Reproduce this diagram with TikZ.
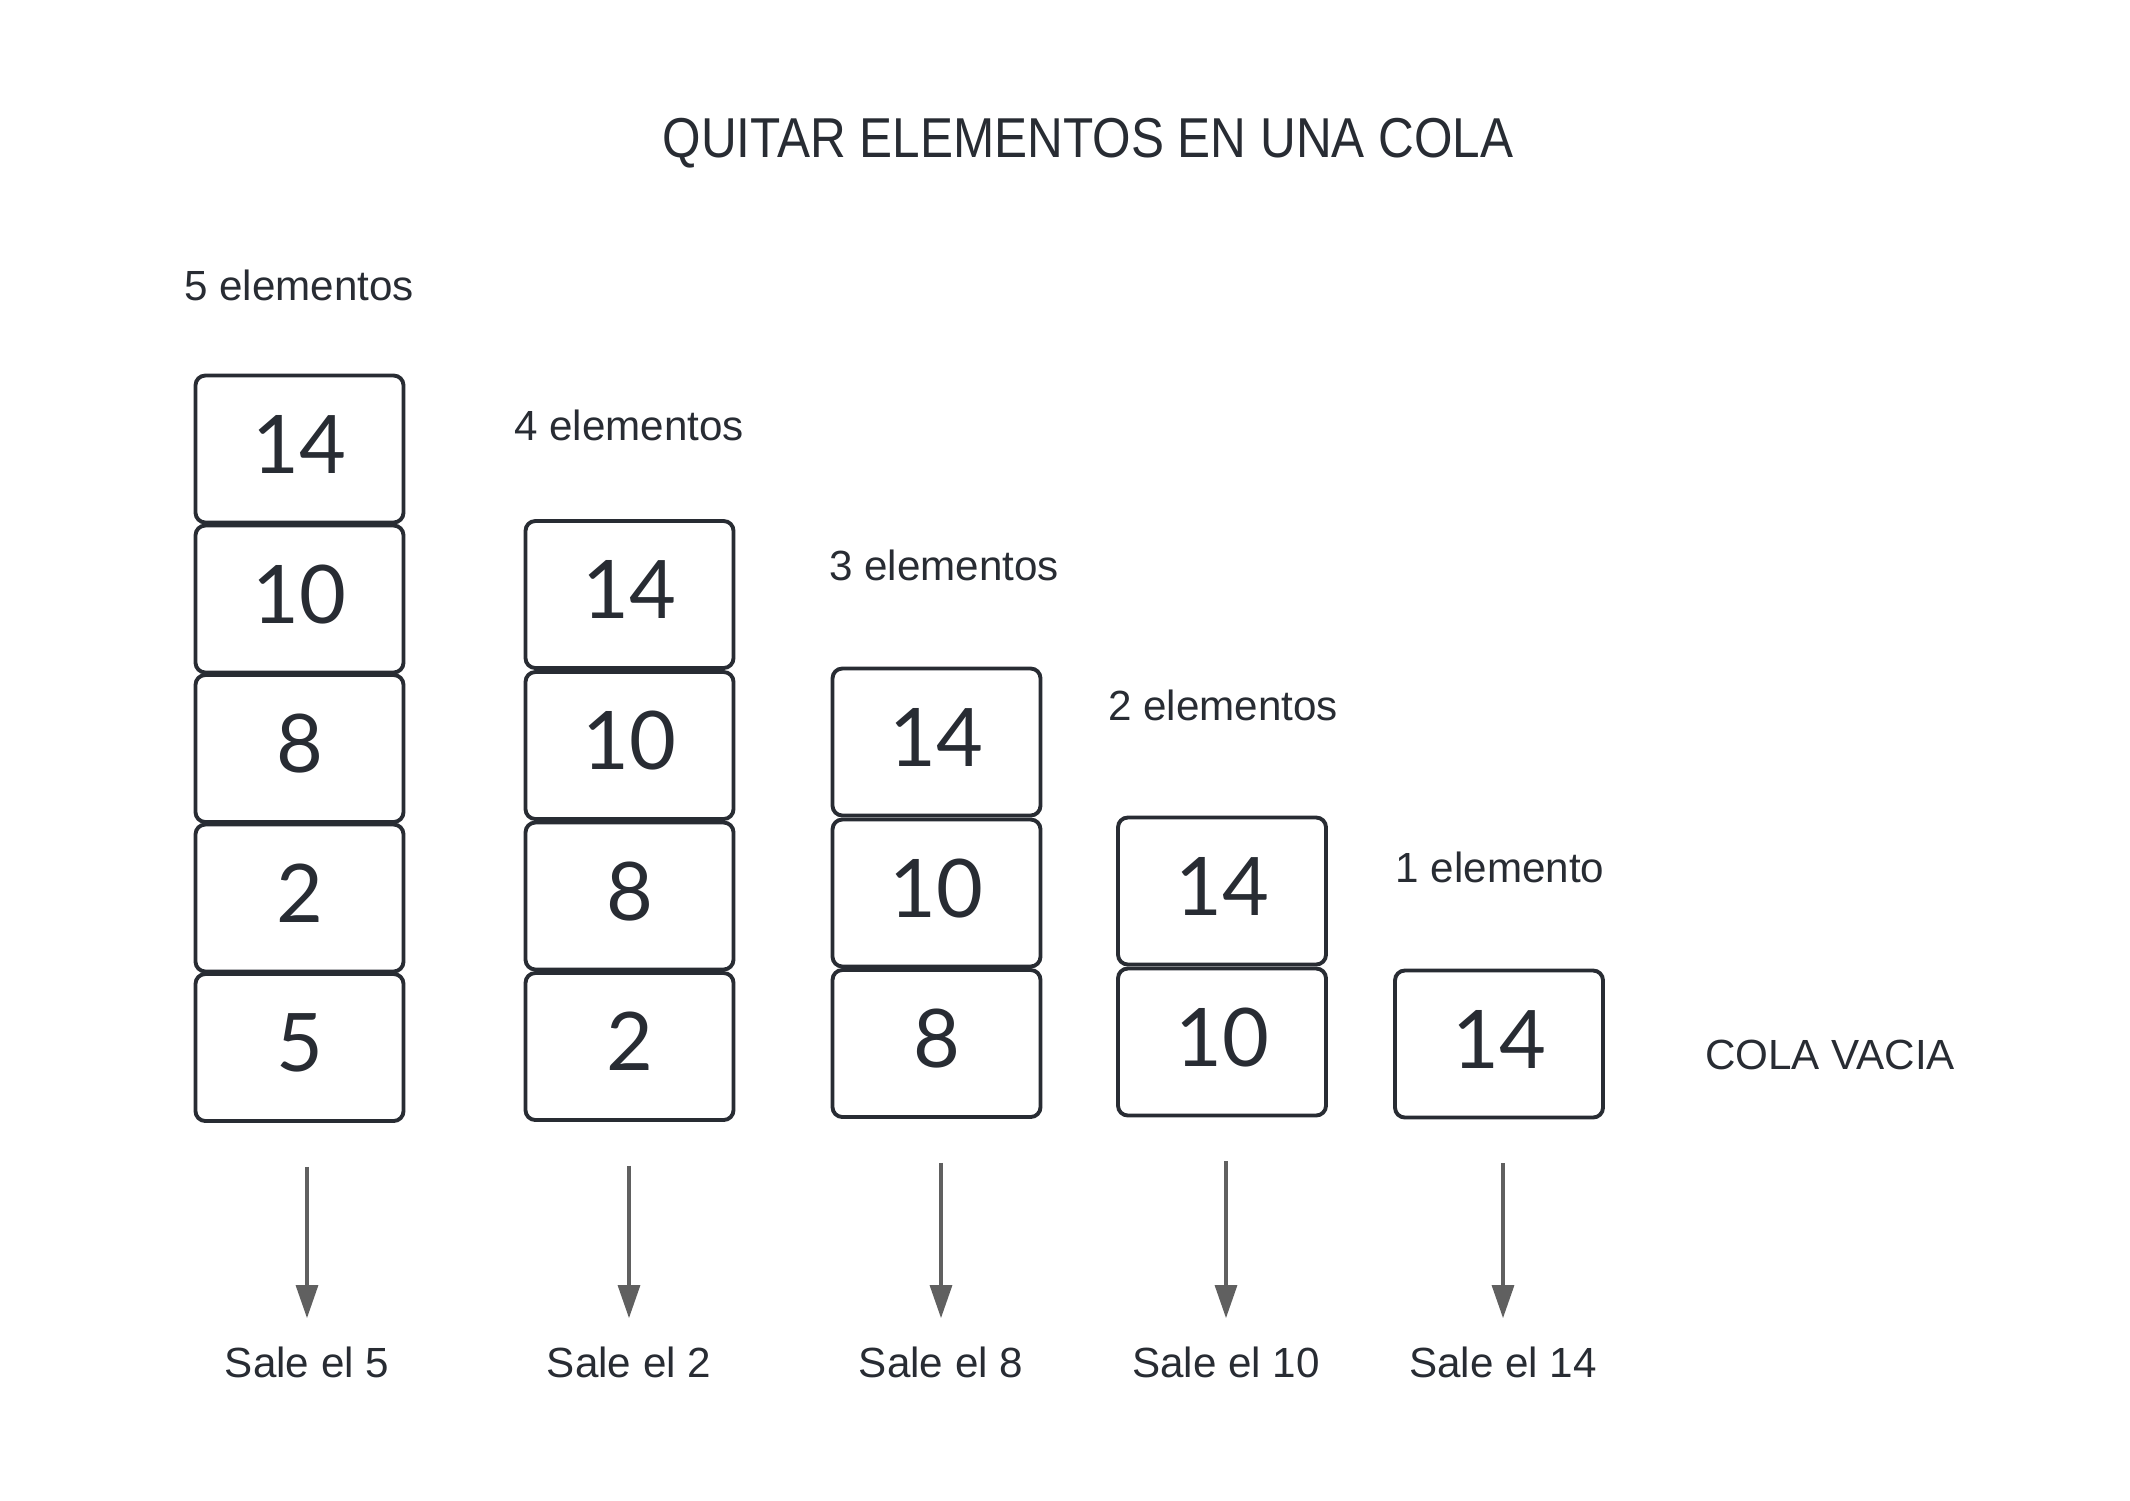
\documentclass[tikz,border=0pt]{standalone}
\usepackage{fontspec}
\setmainfont{Liberation Sans}
\newfontfamily\numfont{Lato}
\usetikzlibrary{arrows.meta}
\definecolor{inkdark}{RGB}{40,44,51}
\definecolor{arrowgray}{RGB}{96,96,96}

\begin{document}
\begin{tikzpicture}[
      box/.style={rectangle, draw=inkdark, line width=1.1pt, rounded corners=2.8pt, minimum height=1.47cm, minimum width=2.08cm, text depth=2.8pt, align=center, text=inkdark, font=\numfont\fontsize{23}{27}\selectfont},
      lbl/.style={text=inkdark, font=\fontsize{12}{14}\selectfont},
      arrow/.style={-{Triangle[width=0.22cm,length=0.33cm]}, line width=0.9pt, draw=arrowgray, shorten <=0.44cm, shorten >=0.16cm}
  ]
  \fill[white] (0,0) rectangle (21.3,-15);
  \useasboundingbox (0,0) rectangle (21.3,-15);

  % Title
  \node[text=inkdark, font=\fontsize{16}{19}\selectfont] (title) at (10.88,-1.43) {\scalebox{0.88}[1]{QUITAR ELEMENTOS EN UNA COLA}};

  % Counts
  \node[lbl] (n5) at (2.99,-2.85) {5 elementos};
  \node[lbl] (n4) at (6.29,-4.25) {4 elementos};
  \node[lbl] (n3) at (9.44,-5.65) {3 elementos};
  \node[lbl] (n2) at (12.23,-7.05) {2 elementos};
  \node[lbl] (n1) at (15.00,-8.67) {1 elemento};
  \node[lbl] (n0) at (18.30,-10.55) {COLA VACIA};

  % Column 1
  \node[box] (b11) at (2.995,-4.49) {14};
  \node[box] (b12) at (2.995,-5.99) {10};
  \node[box] (b13) at (2.995,-7.485) {8};
  \node[box] (b14) at (2.995,-8.98) {2};
  \node[box] (b15) at (2.995,-10.475) {5};

  % Column 2
  \node[box] (b21) at (6.295,-5.945) {14};
  \node[box] (b22) at (6.295,-7.455) {10};
  \node[box] (b23) at (6.295,-8.96) {8};
  \node[box] (b24) at (6.295,-10.465) {2};

  % Column 3
  \node[box] (b31) at (9.365,-7.42) {14};
  \node[box] (b32) at (9.365,-8.93) {10};
  \node[box] (b33) at (9.365,-10.435) {8};

  % Column 4
  \node[box] (b41) at (12.22,-8.91) {14};
  \node[box] (b42) at (12.22,-10.42) {10};

  % Column 5
  \node[box] (b51) at (14.99,-10.44) {14};

  % Outputs
  \node[lbl] (out1) at (3.07,-13.62) {Sale el 5};
  \node[lbl] (out2) at (6.29,-13.62) {Sale el 2};
  \node[lbl] (out3) at (9.41,-13.62) {Sale el 8};
  \node[lbl] (out4) at (12.26,-13.62) {Sale el 10};
  \node[lbl] (out5) at (15.03,-13.62) {Sale el 14};

  % Arrows
  \draw[arrow] (b15.south -| out1.north) -- (out1.north);
  \draw[arrow] (b24.south -| out2.north) -- (out2.north);
  \draw[arrow] (b33.south -| out3.north) -- (out3.north);
  \draw[arrow] (b42.south -| out4.north) -- (out4.north);
  \draw[arrow] (b51.south -| out5.north) -- (out5.north);

  \end{tikzpicture}
\end{document}
